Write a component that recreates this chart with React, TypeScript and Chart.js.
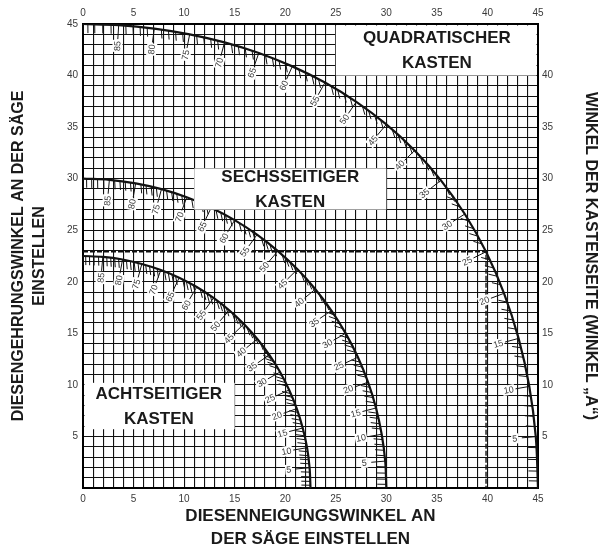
import React, { useEffect, useRef } from 'react';
import { Chart, registerables } from 'chart.js';

Chart.register(...registerables);

// Angle of the box side (Winkel "A"), one point every 5 degrees, from 90 down to 0
const sideAngles = [90, 85, 80, 75, 70, 65, 60, 55, 50, 45, 40, 35, 30, 25, 20, 15, 10, 5, 0];

// Square box (QUADRATISCHER KASTEN): bevel (x) / miter (y)
const squareX = [0, 3.53, 7.05, 10.55, 14.0, 17.39, 20.7, 23.93, 27.03, 30.0, 32.8, 35.4, 37.76, 39.86, 41.64, 43.08, 44.14, 44.78, 45];
const squareY = [45, 44.89, 44.56, 44.0, 43.22, 42.19, 40.89, 39.32, 37.45, 35.26, 32.73, 29.84, 26.57, 22.91, 18.88, 14.51, 9.85, 4.98, 0];

// Hexagonal box (SECHSSEITIGER KASTEN)
const hexX = [0, 2.61, 5.21, 7.76, 10.26, 12.68, 15.0, 17.21, 19.28, 21.21, 22.98, 24.57, 25.98, 27.19, 28.19, 28.98, 29.54, 29.89, 30];
const hexY = [30, 29.89, 29.54, 28.98, 28.19, 27.19, 25.98, 24.57, 22.98, 21.21, 19.28, 17.21, 15.0, 12.68, 10.26, 7.76, 5.21, 2.61, 0];

// Octagonal box (ACHTSEITIGER KASTEN)
const octX = [0, 1.96, 3.91, 5.82, 7.7, 9.51, 11.25, 12.91, 14.46, 15.91, 17.24, 18.43, 19.49, 20.39, 21.14, 21.73, 22.16, 22.41, 22.5];
const octY = [22.5, 22.41, 22.16, 21.73, 21.14, 20.39, 19.49, 18.43, 17.24, 15.91, 14.46, 12.91, 11.25, 9.51, 7.7, 5.82, 3.91, 1.96, 0];

// Example reading (dashed guide, A = 25 on the square box)
const guideX = [0, 39.86, 39.86];
const guideY = [22.91, 22.91, 0];

// Axis tick labels
const xTickLabels = [0, 5, 10, 15, 20, 25, 30, 35, 40, 45];
const yTickLabelsLeft = [5, 10, 15, 20, 25, 30, 35, 40, 45];
const yTickLabelsRight = [5, 10, 15, 20, 25, 30, 35, 40];

const boxLabels = [
  { lines: ['QUADRATISCHER', 'KASTEN'], x0: 25, x1: 45, y0: 40, y1: 45 },
  { lines: ['SECHSSEITIGER', 'KASTEN'], x0: 11, x1: 30, y0: 27, y1: 31 },
  { lines: ['ACHTSEITIGER', 'KASTEN'], x0: 0, x1: 15, y0: 5.7, y1: 10.2 },
];

const FONT = '"Liberation Sans", Arial, sans-serif';
const TICK_COLOR = '#3a3a3a';
const INK = '#111';
const DEG = Math.PI / 180;

const curveTicksPlugin = {
  id: 'curveTicks',
  afterDatasetsDraw(chart: any) {
    const ctx = chart.ctx as CanvasRenderingContext2D;
    for (let ci = 0; ci < 3; ci++) {
      const meta = chart.getDatasetMeta(ci);
      const pts = meta.data.map((p: any) => ({ x: p.x, y: p.y }));
      const n = pts.length;
      const step = 90 / (n - 1);
      const labelled: { x: number; y: number; rot: number; text: string }[] = [];
      ctx.save();
      ctx.strokeStyle = INK;
      ctx.lineWidth = 1;
      ctx.beginPath();
      for (let a = 0; a <= 90; a++) {
        const s = (90 - a) / step;
        let i = Math.floor(s);
        let t = s - i;
        if (i >= n - 1) {
          i = n - 2;
          t = 1;
        }
        const p0 = pts[Math.max(i - 1, 0)];
        const p1 = pts[i];
        const p2 = pts[i + 1];
        const p3 = pts[Math.min(i + 2, n - 1)];
        const t2 = t * t;
        const t3 = t2 * t;
        const cr = (a0: number, a1: number, a2: number, a3: number) =>
          0.5 * (2 * a1 + (-a0 + a2) * t + (2 * a0 - 5 * a1 + 4 * a2 - a3) * t2 + (-a0 + 3 * a1 - 3 * a2 + a3) * t3);
        const crd = (a0: number, a1: number, a2: number, a3: number) =>
          0.5 * (-a0 + a2 + 2 * (2 * a0 - 5 * a1 + 4 * a2 - a3) * t + 3 * (-a0 + 3 * a1 - 3 * a2 + a3) * t2);
        const x = cr(p0.x, p1.x, p2.x, p3.x);
        const y = cr(p0.y, p1.y, p2.y, p3.y);
        const dx = crd(p0.x, p1.x, p2.x, p3.x);
        const dy = crd(p0.y, p1.y, p2.y, p3.y);
        const len = Math.hypot(dx, dy) || 1;
        const tx = dx / len;
        const ty = dy / len;
        const major = a % 5 === 0 && a > 0 && a < 90;
        if (major) {
          // long tick along the inward normal, leading to the label
          const nx = -ty;
          const ny = tx;
          ctx.moveTo(x, y);
          ctx.lineTo(x + nx * 14, y + ny * 14);
          labelled.push({ x: x + nx * 21, y: y + ny * 21, rot: Math.atan2(-ny, -nx), text: String(a) });
        } else {
          // short hatch ticks: hanging down on the upper part, pointing left on the lower part
          const sigma = Math.atan2(ty, tx) / DEG;
          let ux: number;
          let uy: number;
          if (sigma < 55) {
            const th = (90 - 0.45 * sigma) * DEG;
            ux = Math.cos(th);
            uy = Math.sin(th);
          } else {
            const th = (90 - sigma) * 0.6 * DEG;
            ux = -Math.cos(th);
            uy = -Math.sin(th);
          }
          ctx.moveTo(x, y);
          ctx.lineTo(x + ux * 9, y + uy * 9);
        }
      }
      ctx.stroke();
      ctx.font = `9px ${FONT}`;
      ctx.textAlign = 'center';
      ctx.textBaseline = 'middle';
      for (const l of labelled) {
        ctx.save();
        ctx.translate(l.x, l.y);
        ctx.rotate(l.rot);
        const w = ctx.measureText(l.text).width;
        ctx.fillStyle = '#fff';
        ctx.fillRect(-w / 2 - 1, -5, w + 2, 10);
        ctx.fillStyle = TICK_COLOR;
        ctx.fillText(l.text, 0, 0.5);
        ctx.restore();
      }
      ctx.restore();
    }
  },
};

const boxLabelPlugin = {
  id: 'boxLabels',
  afterDatasetsDraw(chart: any) {
    const ctx = chart.ctx as CanvasRenderingContext2D;
    const xs = chart.scales.x;
    const ys = chart.scales.y;
    const area = chart.chartArea;
    ctx.save();
    for (const b of boxLabels) {
      let left = xs.getPixelForValue(b.x0);
      let right = xs.getPixelForValue(b.x1);
      let top = ys.getPixelForValue(b.y1);
      const bottom = ys.getPixelForValue(b.y0);
      left = Math.max(left, area.left + 1.5);
      right = Math.min(right, area.right - 1.5);
      top = Math.max(top, area.top + 1.5);
      ctx.fillStyle = '#fff';
      ctx.fillRect(left, top, right - left, bottom - top);
      const cx = (xs.getPixelForValue(b.x0) + xs.getPixelForValue(b.x1)) / 2;
      const cy = (ys.getPixelForValue(b.y0) + ys.getPixelForValue(b.y1)) / 2;
      ctx.fillStyle = '#1a1a1a';
      ctx.font = `bold 17px ${FONT}`;
      ctx.textAlign = 'center';
      ctx.textBaseline = 'middle';
      ctx.fillText(b.lines[0], cx, cy - 11.5);
      ctx.fillText(b.lines[1], cx, cy + 13.5);
    }
    ctx.restore();
  },
};

const tickFont = { family: FONT, size: 10 };

export default function App() {
  const ref = useRef<HTMLCanvasElement | null>(null);

  useEffect(() => {
    document.body.style.margin = '0';
    if (!ref.current) return;
    const curveStyle = {
      borderColor: INK,
      borderWidth: 2.2,
      pointRadius: 0,
      tension: 0.35,
      fill: false,
      xAxisID: 'x',
      yAxisID: 'y',
    };
    const toPoints = (xs: number[], ys: number[]) => xs.map((x, i) => ({ x, y: ys[i], a: sideAngles[i] }));
    const chart = new Chart(ref.current, {
      type: 'line',
      data: {
        datasets: [
          { ...curveStyle, label: 'QUADRATISCHER KASTEN', data: toPoints(squareX, squareY) },
          { ...curveStyle, label: 'SECHSSEITIGER KASTEN', data: toPoints(hexX, hexY) },
          { ...curveStyle, label: 'ACHTSEITIGER KASTEN', data: toPoints(octX, octY) },
          {
            label: 'Beispiel',
            data: guideX.map((x, i) => ({ x, y: guideY[i] })),
            borderColor: INK,
            borderWidth: 1.4,
            borderDash: [5, 2],
            pointRadius: 0,
            tension: 0,
            fill: false,
            xAxisID: 'x',
            yAxisID: 'y',
          },
        ],
      },
      options: {
        animation: false,
        responsive: true,
        maintainAspectRatio: false,
        layout: { padding: 0 },
        plugins: {
          legend: { display: false },
          tooltip: { enabled: false },
          title: { display: false },
        },
        scales: {
          x: {
            type: 'linear',
            position: 'bottom',
            min: 0,
            max: 45,
            ticks: {
              stepSize: 1,
              autoSkip: false,
              maxRotation: 0,
              padding: 5,
              font: tickFont,
              color: TICK_COLOR,
              callback: (v: any) => (xTickLabels.includes(Number(v)) ? String(v) : ''),
            },
            grid: { color: INK, lineWidth: 1.1, drawTicks: false },
            border: { display: true, color: '#000', width: 2 },
            title: {
              display: true,
              text: ['DIESENNEIGUNGSWINKEL AN', 'DER SÄGE EINSTELLEN'],
              color: '#1a1a1a',
              font: { family: FONT, size: 17, weight: 'bold', lineHeight: '23px' },
              padding: { top: 0, bottom: -4 },
            },
            afterFit: (s: any) => {
              s.height = 59;
            },
          },
          x2: {
            type: 'linear',
            position: 'top',
            min: 0,
            max: 45,
            ticks: {
              stepSize: 5,
              autoSkip: false,
              maxRotation: 0,
              padding: 5,
              font: tickFont,
              color: TICK_COLOR,
              callback: (v: any) => (xTickLabels.includes(Number(v)) ? String(v) : ''),
            },
            grid: { display: false, drawTicks: false },
            border: { display: true, color: '#000', width: 2 },
            afterFit: (s: any) => {
              s.height = 24;
            },
          },
          y: {
            type: 'linear',
            position: 'left',
            min: 0,
            max: 45,
            ticks: {
              stepSize: 1,
              autoSkip: false,
              padding: 5,
              font: tickFont,
              color: TICK_COLOR,
              callback: (v: any) => (yTickLabelsLeft.includes(Number(v)) ? String(v) : ''),
            },
            grid: { color: INK, lineWidth: 1.1, drawTicks: false },
            border: { display: true, color: '#000', width: 2 },
            title: {
              display: true,
              text: ['DIESENGEHRUNGSWINKEL AN DER SÄGE', 'EINSTELLEN'],
              color: '#1a1a1a',
              font: { family: FONT, size: 16, weight: 'bold', lineHeight: '21px' },
              padding: { top: 8.5, bottom: 0 },
            },
            afterFit: (s: any) => {
              s.width = 83;
            },
          },
          y2: {
            type: 'linear',
            position: 'right',
            min: 0,
            max: 45,
            ticks: {
              stepSize: 5,
              autoSkip: false,
              padding: 4,
              font: tickFont,
              color: TICK_COLOR,
              callback: (v: any) => (yTickLabelsRight.includes(Number(v)) ? String(v) : ''),
            },
            grid: { display: false, drawTicks: false },
            border: { display: true, color: '#000', width: 2 },
            title: {
              display: true,
              text: 'WINKEL DER KASTENSEITE (WINKEL „A“)',
              color: '#1a1a1a',
              font: { family: FONT, size: 16, weight: 'bold', lineHeight: '21px' },
              padding: { top: 7.5, bottom: 0 },
            },
            afterFit: (s: any) => {
              s.width = 70;
            },
          },
        },
      } as any,
      plugins: [curveTicksPlugin, boxLabelPlugin],
    });
    return () => chart.destroy();
  }, []);

  return (
    <div style={{ width: 608, height: 547, position: 'relative' }}>
      <canvas ref={ref} />
    </div>
  );
}
